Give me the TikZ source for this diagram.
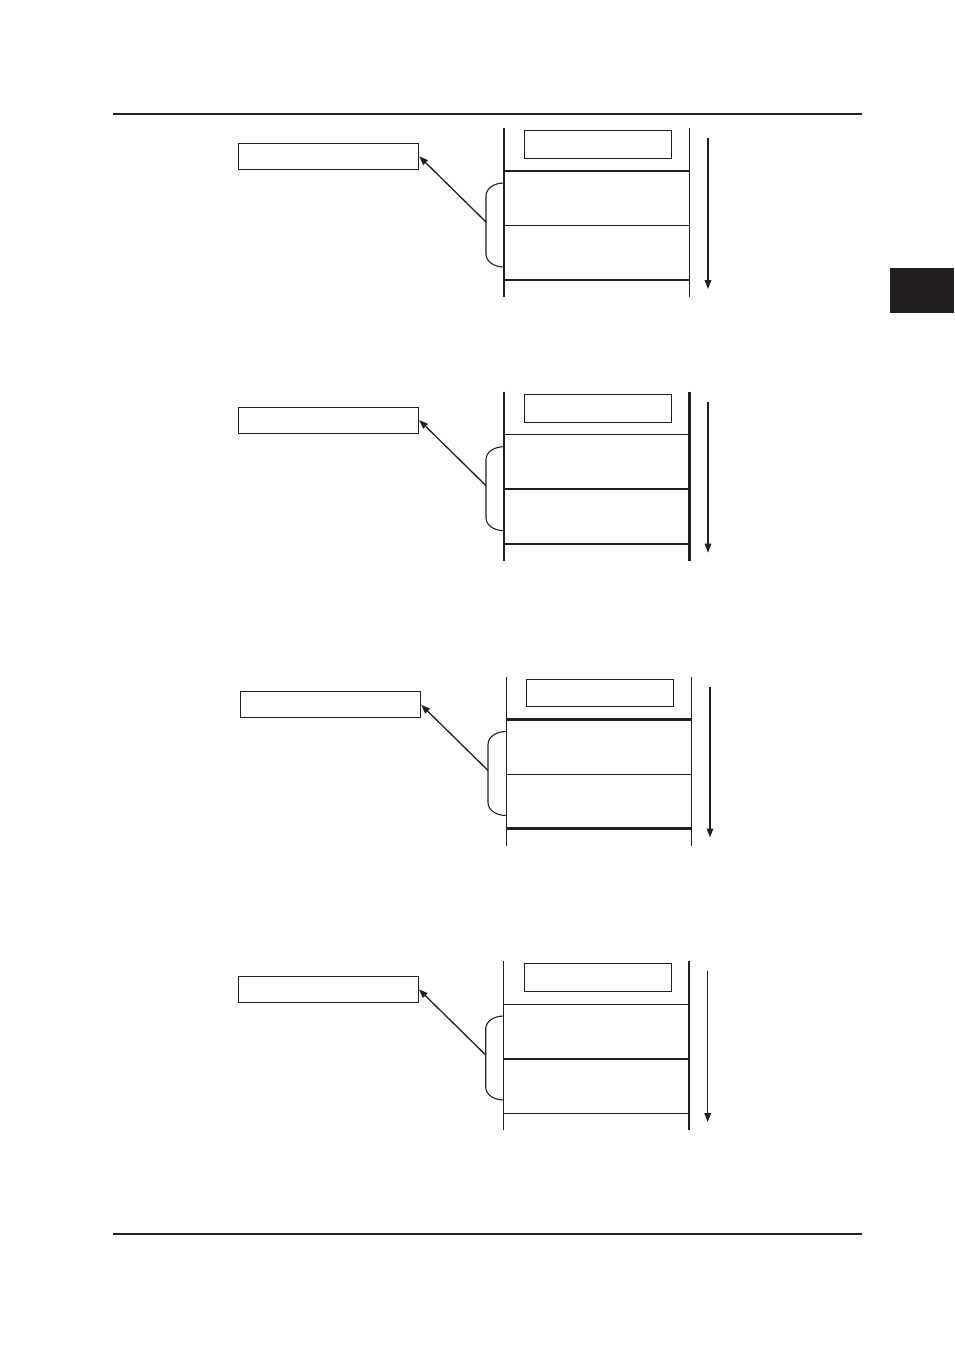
\documentclass[tikz,border=0pt]{standalone}
\usetikzlibrary{arrows.meta}
\definecolor{ink}{HTML}{231F20}
\tikzset{
  thickln/.style={line width=2.1pt},
  thinln/.style={line width=1pt},
  boxnode/.style={draw=ink, line width=1pt, inner sep=0pt},
  ptr/.style={draw=ink, line width=1.3pt, -{Triangle[length=9pt,width=6.5pt]}},
  bracket/.style={draw=ink, line width=1.1pt},
}
\newcommand\myblock[8]{%
\begin{scope}[shift={(#1,#2)}]
  \node[boxnode, minimum width=180.4pt, minimum height=26pt] (lbox#3) at (328.5,156.3) {};
  \node[boxnode, minimum width=147.4pt, minimum height=27.6pt] (ibox#3) at (598,144.5) {};
  \coordinate (lt#3) at (504,128);   \coordinate (lb#3) at (504,297);
  \coordinate (rt#3) at (689.5,128); \coordinate (rb#3) at (689.5,297);
  \coordinate (ha#3) at (504,171);   \coordinate (hA#3) at (689.5,171);
  \coordinate (hb#3) at (504,225.7); \coordinate (hB#3) at (689.5,225.7);
  \coordinate (hc#3) at (504,280);   \coordinate (hC#3) at (689.5,280);
  \coordinate (brc#3) at (486,222);
  \coordinate (dt#3) at (708,138.3); \coordinate (db#3) at (708,289);
  \draw[ink,#4] (lt#3) -- (lb#3);
  \draw[ink,#5] (rt#3) -- (rb#3);
  \draw[ink,#6] (ha#3) -- (hA#3);
  \draw[ink,#7] (hb#3) -- (hB#3);
  \draw[ink,#8] (hc#3) -- (hC#3);
  \draw[bracket] (504,183) .. controls (494,183) and (486,188.5) .. (486,196)
     -- (486,254) .. controls (486,261.5) and (494,267) .. (504,267);
  \draw[ptr] (brc#3) -- (lbox#3.east);
  \draw[ptr] (dt#3) -- (db#3);
\end{scope}}
\begin{document}
\begin{tikzpicture}[x=1pt,y=-1pt]
  \useasboundingbox (0,0) rectangle (954,1350);
  \fill[white] (0,0) rectangle (954,1350);
  % page rules
  \coordinate (rule1a) at (113,114);  \coordinate (rule1b) at (862,114);
  \coordinate (rule2a) at (113,1234); \coordinate (rule2b) at (862,1234);
  \draw[ink, line width=1.2pt] (rule1a) -- (rule1b);
  \draw[ink, line width=1.2pt] (rule2a) -- (rule2b);
  % chapter tab
  \fill[ink] (890,268.3) rectangle (954,312.7);
  % blocks
  \myblock{0}{0}{1}{thickln}{thinln}{thickln}{thinln}{thickln}
  \myblock{0}{263.7}{2}{thickln}{thickln}{thinln}{thickln}{thickln}
  \myblock{2}{548.5}{3}{thinln}{thinln}{thickln}{thinln}{thickln}
  \myblock{-0.3}{833}{4}{thinln}{thickln}{thinln}{thickln}{thinln}
\end{tikzpicture}
\end{document}
